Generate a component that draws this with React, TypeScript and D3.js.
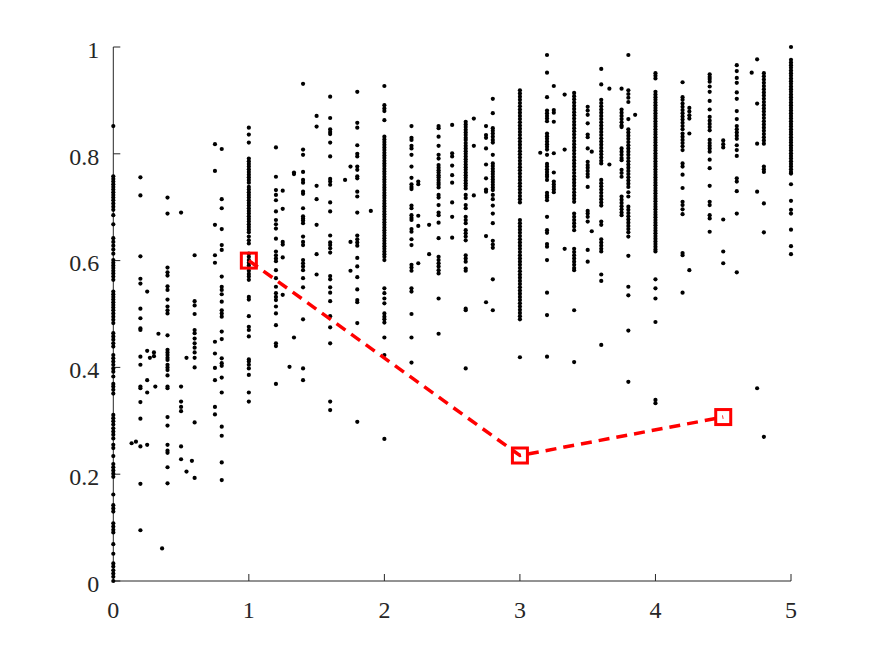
import React from "react";
import * as d3 from "d3";

const xTicks = [0, 1, 2, 3, 4, 5];
const xTickLabels = ["0", "1", "2", "3", "4", "5"];
const yTicks = [0, 0.2, 0.4, 0.6, 0.8, 1];
const yTickLabels = ["0", "0.2", "0.4", "0.6", "0.8", "1"];

const lineX = [1, 3, 4.5];
const lineY = [0.6, 0.235, 0.307];

const columnX = [
  0, 0.135, 0.167, 0.2, 0.25, 0.27, 0.3, 0.31, 0.333, 0.36, 0.4, 0.5, 0.54, 0.58, 0.6, 0.75, 0.8,
  1.0, 1.2, 1.25, 1.3, 1.333, 1.4, 1.5, 1.6, 1.71, 1.75, 1.8, 1.9, 2.0, 2.2, 2.25, 2.33, 2.4, 2.5,
  2.6, 2.66, 2.75, 2.8, 3.0, 3.15, 3.2, 3.25, 3.33, 3.4, 3.5, 3.53, 3.6, 3.66, 3.75, 3.8, 3.85, 4.0,
  4.2, 4.25, 4.4, 4.5, 4.6, 4.71, 4.75, 4.8, 5.0,
];

const columnY: number[][] = [
  // 0
  [0.852, 0.758, 0.753, 0.748, 0.743, 0.738, 0.733, 0.728, 0.723, 0.718, 0.713, 0.707, 0.701, 0.695, 0.685, 0.668,
   0.642, 0.635, 0.628, 0.621, 0.613, 0.601, 0.596, 0.591, 0.586, 0.581, 0.576, 0.570, 0.564, 0.542, 0.537, 0.532,
   0.527, 0.522, 0.517, 0.512, 0.507, 0.501, 0.495, 0.489, 0.483, 0.464, 0.458, 0.452, 0.445, 0.439, 0.423, 0.417,
   0.411, 0.405, 0.398, 0.392, 0.383, 0.369, 0.364, 0.358, 0.351, 0.311, 0.305, 0.299, 0.293, 0.286, 0.280, 0.274,
   0.267, 0.255, 0.249, 0.234, 0.219, 0.213, 0.207, 0.201, 0.195, 0.162, 0.142, 0.136, 0.130, 0.108, 0.102, 0.096,
   0.091, 0.069, 0.051, 0.033, 0.027, 0.020, 0.014, 0.008, 0.0],
  // 0.135
  [0.258],
  // 0.167
  [0.261],
  // 0.2
  [0.756, 0.722, 0.608, 0.566, 0.557, 0.510, 0.492, 0.473, 0.470, 0.420, 0.405, 0.364, 0.361, 0.335, 0.304, 0.252,
   0.182, 0.095],
  // 0.25
  [0.542, 0.431, 0.376, 0.353, 0.255],
  // 0.27
  [0.418],
  // 0.3
  [0.428, 0.421],
  // 0.31
  [0.364],
  // 0.333
  [0.463],
  // 0.36
  [0.061],
  // 0.4
  [0.718, 0.688, 0.587, 0.578, 0.572, 0.552, 0.545, 0.527, 0.514, 0.507, 0.501, 0.460, 0.433, 0.428, 0.423, 0.418,
   0.414, 0.405, 0.400, 0.395, 0.385, 0.364, 0.361, 0.307, 0.291, 0.255, 0.244, 0.240, 0.213, 0.183],
  // 0.5
  [0.690, 0.364, 0.336, 0.326, 0.318, 0.252, 0.228],
  // 0.54
  [0.418, 0.205],
  // 0.58
  [0.225],
  // 0.6
  [0.610, 0.524, 0.516, 0.500, 0.470, 0.464, 0.454, 0.445, 0.437, 0.428, 0.418, 0.400, 0.297, 0.193],
  // 0.75
  [0.818, 0.768, 0.667, 0.610, 0.596, 0.448, 0.426, 0.399, 0.376, 0.326, 0.312],
  // 0.8
  [0.809, 0.715, 0.698, 0.659, 0.629, 0.620, 0.570, 0.551, 0.545, 0.537, 0.523, 0.507, 0.501, 0.495, 0.467, 0.453,
   0.417, 0.408, 0.403, 0.381, 0.353, 0.289, 0.272, 0.222, 0.189],
  // 1.0
  [0.849, 0.836, 0.821, 0.791, 0.786, 0.781, 0.776, 0.771, 0.766, 0.761, 0.756, 0.751, 0.746, 0.738, 0.733, 0.728,
   0.723, 0.718, 0.713, 0.708, 0.703, 0.698, 0.693, 0.688, 0.683, 0.678, 0.673, 0.668, 0.663, 0.658, 0.653, 0.645,
   0.638, 0.632, 0.613, 0.607, 0.601, 0.596, 0.591, 0.586, 0.581, 0.575, 0.570, 0.564, 0.532, 0.527, 0.496, 0.476,
   0.470, 0.458, 0.415, 0.411, 0.405, 0.398, 0.386, 0.353, 0.336],
  // 1.2
  [0.812, 0.757, 0.732, 0.723, 0.713, 0.692, 0.676, 0.668, 0.660, 0.641, 0.617, 0.610, 0.604, 0.599, 0.582, 0.567,
   0.551, 0.539, 0.532, 0.526, 0.514, 0.501, 0.479, 0.445, 0.440, 0.369],
  // 1.25
  [0.731, 0.697, 0.635, 0.630, 0.606, 0.536],
  // 1.3
  [0.401],
  // 1.333
  [0.765, 0.762, 0.456],
  // 1.4
  [0.931, 0.808, 0.798, 0.766, 0.751, 0.746, 0.729, 0.725, 0.698, 0.683, 0.679, 0.675, 0.670, 0.645, 0.635, 0.629,
   0.601, 0.595, 0.589, 0.582, 0.567, 0.550, 0.490, 0.398, 0.376],
  // 1.5
  [0.871, 0.851, 0.740, 0.715, 0.667, 0.612, 0.574],
  // 1.6
  [0.907, 0.867, 0.846, 0.841, 0.837, 0.821, 0.795, 0.753, 0.748, 0.742, 0.709, 0.692, 0.647, 0.634, 0.629, 0.623,
   0.615, 0.571, 0.565, 0.550, 0.540, 0.524, 0.496, 0.475, 0.445, 0.336, 0.320],
  // 1.71
  [0.751],
  // 1.75
  [0.776, 0.635, 0.581],
  // 1.8
  [0.916, 0.858, 0.849, 0.816, 0.800, 0.795, 0.776, 0.770, 0.758, 0.754, 0.729, 0.720, 0.690, 0.647, 0.640, 0.634,
   0.628, 0.605, 0.589, 0.569, 0.546, 0.526, 0.522, 0.483, 0.298],
  // 1.9
  [0.693],
  // 2.0
  [0.927, 0.891, 0.885, 0.880, 0.863, 0.832, 0.827, 0.822, 0.817, 0.812, 0.807, 0.802, 0.797, 0.792, 0.787, 0.782,
   0.777, 0.772, 0.767, 0.762, 0.757, 0.752, 0.747, 0.742, 0.737, 0.732, 0.727, 0.722, 0.717, 0.712, 0.707, 0.702,
   0.697, 0.692, 0.687, 0.682, 0.677, 0.672, 0.667, 0.662, 0.657, 0.652, 0.647, 0.642, 0.637, 0.632, 0.627, 0.622,
   0.617, 0.612, 0.607, 0.601, 0.548, 0.539, 0.529, 0.520, 0.501, 0.495, 0.490, 0.484, 0.456, 0.423, 0.266],
  // 2.2
  [0.852, 0.830, 0.826, 0.815, 0.810, 0.798, 0.776, 0.755, 0.743, 0.738, 0.734, 0.703, 0.698, 0.685, 0.680, 0.676,
   0.659, 0.654, 0.640, 0.629, 0.592, 0.587, 0.581, 0.548, 0.542, 0.500, 0.456, 0.409],
  // 2.25
  [0.748, 0.743, 0.684, 0.665, 0.595],
  // 2.33
  [0.667, 0.612],
  // 2.4
  [0.852, 0.848, 0.832, 0.815, 0.798, 0.791, 0.779, 0.774, 0.769, 0.765, 0.760, 0.756, 0.751, 0.746, 0.742, 0.737,
   0.723, 0.718, 0.704, 0.690, 0.685, 0.671, 0.642, 0.607, 0.601, 0.595, 0.589, 0.582, 0.576, 0.529, 0.463],
  // 2.5
  [0.854, 0.801, 0.795, 0.778, 0.760, 0.746, 0.709, 0.682, 0.643],
  // 2.6
  [0.860, 0.855, 0.850, 0.845, 0.840, 0.835, 0.830, 0.826, 0.820, 0.815, 0.810, 0.805, 0.800, 0.795, 0.790, 0.785,
   0.780, 0.775, 0.770, 0.765, 0.760, 0.755, 0.750, 0.745, 0.740, 0.735, 0.723, 0.717, 0.704, 0.698, 0.682, 0.676,
   0.670, 0.657, 0.651, 0.645, 0.638, 0.610, 0.604, 0.598, 0.585, 0.581, 0.510, 0.507, 0.398],
  // 2.66
  [0.866, 0.815, 0.722],
  // 2.75
  [0.852, 0.835, 0.830, 0.810, 0.780, 0.754, 0.733, 0.729, 0.646, 0.522],
  // 2.8
  [0.903, 0.876, 0.848, 0.843, 0.838, 0.832, 0.826, 0.821, 0.798, 0.782, 0.777, 0.772, 0.767, 0.762, 0.757, 0.752,
   0.747, 0.742, 0.737, 0.732, 0.723, 0.715, 0.703, 0.688, 0.670, 0.637, 0.630, 0.624, 0.565, 0.507],
  // 3.0
  [0.919, 0.913, 0.907, 0.901, 0.895, 0.889, 0.883, 0.877, 0.871, 0.865, 0.859, 0.853, 0.847, 0.841, 0.835, 0.829,
   0.823, 0.817, 0.811, 0.805, 0.799, 0.793, 0.787, 0.781, 0.775, 0.769, 0.763, 0.757, 0.751, 0.745, 0.739, 0.733,
   0.727, 0.721, 0.715, 0.709, 0.676, 0.670, 0.664, 0.658, 0.652, 0.646, 0.640, 0.634, 0.628, 0.622, 0.616, 0.610,
   0.604, 0.598, 0.592, 0.586, 0.580, 0.574, 0.568, 0.562, 0.556, 0.550, 0.544, 0.538, 0.532, 0.526, 0.520, 0.514,
   0.508, 0.502, 0.496, 0.490, 0.419],
  // 3.15
  [0.802],
  // 3.2
  [0.985, 0.952, 0.906, 0.881, 0.876, 0.871, 0.866, 0.861, 0.838, 0.833, 0.828, 0.823, 0.818, 0.813, 0.808, 0.798,
   0.781, 0.776, 0.771, 0.766, 0.761, 0.757, 0.751, 0.727, 0.722, 0.718, 0.713, 0.682, 0.657, 0.652, 0.631, 0.626,
   0.601, 0.540, 0.498, 0.420],
  // 3.25
  [0.927, 0.882, 0.877, 0.860, 0.801, 0.765, 0.748, 0.743, 0.738, 0.733, 0.728],
  // 3.33
  [0.911, 0.808, 0.622],
  // 3.4
  [0.914, 0.908, 0.902, 0.896, 0.890, 0.884, 0.878, 0.872, 0.866, 0.860, 0.854, 0.848, 0.842, 0.836, 0.830, 0.824,
   0.818, 0.812, 0.806, 0.800, 0.794, 0.788, 0.782, 0.776, 0.770, 0.764, 0.758, 0.752, 0.746, 0.740, 0.734, 0.728,
   0.722, 0.716, 0.710, 0.688, 0.682, 0.676, 0.670, 0.664, 0.657, 0.622, 0.616, 0.610, 0.604, 0.598, 0.592, 0.586,
   0.582, 0.507, 0.410],
  // 3.5
  [0.888, 0.881, 0.873, 0.857, 0.836, 0.831, 0.810, 0.785, 0.779, 0.774, 0.768, 0.762, 0.757, 0.738, 0.693, 0.688,
   0.682, 0.673, 0.620, 0.598],
  // 3.53
  [0.804, 0.655],
  // 3.6
  [0.959, 0.930, 0.901, 0.895, 0.889, 0.883, 0.877, 0.871, 0.865, 0.859, 0.853, 0.847, 0.841, 0.835, 0.829, 0.823,
   0.817, 0.811, 0.805, 0.799, 0.793, 0.787, 0.782, 0.751, 0.745, 0.739, 0.733, 0.727, 0.721, 0.715, 0.709, 0.703,
   0.673, 0.667, 0.640, 0.634, 0.628, 0.622, 0.617, 0.574, 0.562, 0.442],
  // 3.66
  [0.922, 0.780],
  // 3.75
  [0.922, 0.883, 0.877, 0.871, 0.865, 0.859, 0.853, 0.850, 0.810, 0.804, 0.798, 0.792, 0.788, 0.770, 0.764, 0.757,
   0.720, 0.714, 0.708, 0.702, 0.696, 0.690, 0.685],
  // 3.8
  [0.985, 0.919, 0.912, 0.905, 0.897, 0.865, 0.846, 0.840, 0.834, 0.828, 0.822, 0.816, 0.810, 0.804, 0.798, 0.792,
   0.786, 0.780, 0.774, 0.768, 0.762, 0.756, 0.750, 0.744, 0.738, 0.728, 0.720, 0.701, 0.695, 0.689, 0.683, 0.677,
   0.671, 0.665, 0.659, 0.653, 0.645, 0.609, 0.551, 0.535, 0.469, 0.373],
  // 3.85
  [0.873],
  // 4.0
  [0.951, 0.946, 0.941, 0.916, 0.911, 0.906, 0.901, 0.896, 0.891, 0.886, 0.881, 0.876, 0.871, 0.866, 0.861, 0.856,
   0.851, 0.846, 0.841, 0.836, 0.831, 0.826, 0.821, 0.816, 0.811, 0.806, 0.801, 0.796, 0.791, 0.786, 0.781, 0.776,
   0.771, 0.766, 0.761, 0.756, 0.751, 0.746, 0.741, 0.736, 0.731, 0.726, 0.721, 0.716, 0.711, 0.706, 0.701, 0.696,
   0.691, 0.686, 0.681, 0.676, 0.671, 0.666, 0.661, 0.656, 0.651, 0.646, 0.641, 0.636, 0.631, 0.626, 0.621, 0.617,
   0.565, 0.548, 0.529, 0.485, 0.339, 0.333],
  // 4.2
  [0.934, 0.906, 0.901, 0.894, 0.888, 0.882, 0.876, 0.870, 0.864, 0.858, 0.852, 0.846, 0.838, 0.832, 0.826, 0.820,
   0.814, 0.807, 0.782, 0.776, 0.761, 0.736, 0.710, 0.704, 0.696, 0.687, 0.614, 0.610, 0.540],
  // 4.25
  [0.886, 0.879, 0.872, 0.866, 0.838, 0.582],
  // 4.4
  [0.949, 0.944, 0.940, 0.935, 0.926, 0.916, 0.899, 0.883, 0.869, 0.862, 0.856, 0.850, 0.844, 0.826, 0.820, 0.815,
   0.810, 0.804, 0.789, 0.773, 0.740, 0.710, 0.704, 0.685, 0.679, 0.654],
  // 4.5
  [0.825, 0.818, 0.812, 0.677, 0.617, 0.595],
  // 4.6
  [0.966, 0.955, 0.942, 0.933, 0.915, 0.903, 0.880, 0.865, 0.852, 0.846, 0.840, 0.834, 0.828, 0.816, 0.807, 0.796,
   0.754, 0.748, 0.730, 0.688, 0.578],
  // 4.71
  [0.952],
  // 4.75
  [0.977, 0.894, 0.819, 0.729, 0.361],
  // 4.8
  [0.951, 0.945, 0.939, 0.933, 0.927, 0.921, 0.915, 0.909, 0.903, 0.897, 0.891, 0.885, 0.879, 0.873, 0.867, 0.861,
   0.855, 0.849, 0.843, 0.837, 0.831, 0.825, 0.819, 0.776, 0.771, 0.766, 0.707, 0.653, 0.270],
  // 5.0
  [1.0, 0.976, 0.971, 0.966, 0.961, 0.956, 0.951, 0.946, 0.941, 0.936, 0.931, 0.926, 0.921, 0.916, 0.911, 0.906,
   0.901, 0.896, 0.891, 0.886, 0.881, 0.876, 0.871, 0.866, 0.861, 0.856, 0.851, 0.846, 0.841, 0.836, 0.831, 0.826,
   0.821, 0.816, 0.811, 0.806, 0.801, 0.796, 0.791, 0.786, 0.781, 0.776, 0.771, 0.766, 0.763, 0.743, 0.712, 0.695,
   0.688, 0.658, 0.627, 0.612],
];

const W = 872;
const H = 654;
const left = 113.3;
const right = 791;
const top = 47;
const bottom = 581;

export default function App() {
  const x = d3.scaleLinear().domain([0, 5]).range([left, right]);
  const y = d3.scaleLinear().domain([0, 1]).range([bottom, top]);

  const points: { px: number; py: number }[] = [];
  columnX.forEach((cx, i) => {
    (columnY[i] || []).forEach((v) => points.push({ px: x(cx), py: y(v) }));
  });

  const lineGen = d3
    .line<number>()
    .x((_, i) => x(lineX[i]))
    .y((d) => y(d));

  const axisColor = "#262626";
  const fontStyle = {
    fontFamily: '"Liberation Serif", "Times New Roman", serif',
    fontSize: "24px",
  };
  const markerSize = 15;

  return (
    <svg
      width={W}
      height={H}
      style={{ position: "absolute", left: 0, top: 0, background: "#fff" }}
    >
      <rect x={0} y={0} width={W} height={H} fill="#fff" />
      <line x1={left} y1={top} x2={left} y2={bottom} stroke={axisColor} strokeWidth={1} />
      <line x1={left} y1={bottom} x2={right} y2={bottom} stroke={axisColor} strokeWidth={1} />
      {yTicks.map((t, i) => (
        <g key={"y" + i}>
          <line x1={left} x2={left + 7} y1={y(t)} y2={y(t)} stroke={axisColor} strokeWidth={1} />
          <text
            x={left - 14}
            y={y(t)}
            dy="0.45em"
            textAnchor="end"
            style={fontStyle}
            fill={axisColor}
          >
            {yTickLabels[i]}
          </text>
        </g>
      ))}
      {xTicks.map((t, i) => (
        <g key={"x" + i}>
          <line x1={x(t)} x2={x(t)} y1={bottom} y2={bottom - 7} stroke={axisColor} strokeWidth={1} />
          <text
            x={x(t)}
            y={bottom + 37}
            textAnchor="middle"
            style={fontStyle}
            fill={axisColor}
          >
            {xTickLabels[i]}
          </text>
        </g>
      ))}
      <g>
        {points.map((p, i) => (
          <circle key={i} cx={p.px} cy={p.py} r={2.1} fill="#000" />
        ))}
      </g>
      <path
        d={lineGen(lineY) || ""}
        fill="none"
        stroke="#ff0000"
        strokeWidth={3.5}
        strokeDasharray="11 7"
      />
      {lineX.map((lx, i) => (
        <rect
          key={"m" + i}
          x={x(lx) - markerSize / 2}
          y={y(lineY[i]) - markerSize / 2}
          width={markerSize}
          height={markerSize}
          fill="none"
          stroke="#ff0000"
          strokeWidth={3}
        />
      ))}
    </svg>
  );
}
